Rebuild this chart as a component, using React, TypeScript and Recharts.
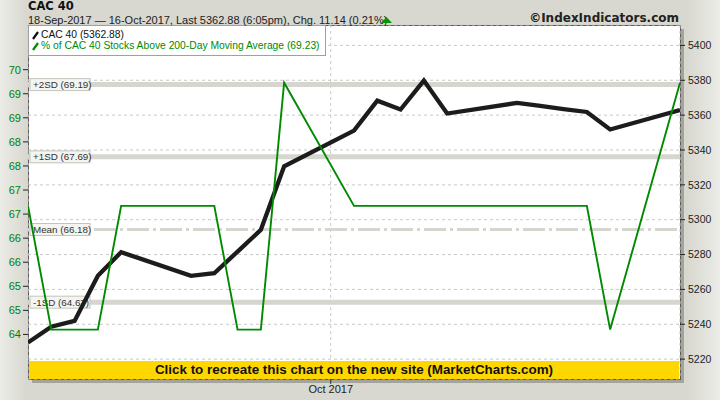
import { LineChart, Line, XAxis, YAxis, CartesianGrid, ReferenceLine } from 'recharts'

// trading days, 18-Sep-2017 .. 16-Oct-2017
const dates = [
  '2017-09-18', '2017-09-19', '2017-09-20', '2017-09-21', '2017-09-22',
  '2017-09-25', '2017-09-26', '2017-09-27', '2017-09-28', '2017-09-29',
  '2017-10-02', '2017-10-03', '2017-10-04', '2017-10-05', '2017-10-06',
  '2017-10-09', '2017-10-10', '2017-10-11', '2017-10-12', '2017-10-13',
  '2017-10-16',
]

const cacClose = [
  5229.5, 5238.6, 5241.9, 5267.8, 5281.4,
  5267.8, 5269.3, 5281.7, 5294.2, 5330.6,
  5351.1, 5368.3, 5363.2, 5379.8, 5360.9,
  5367.0, 5365.3, 5363.5, 5361.8, 5351.74,
  5362.88,
]

const pctAbove200 = [
  66.67, 64.10, 64.10, 64.10, 66.67,
  66.67, 66.67, 64.10, 64.10, 69.23,
  66.67, 66.67, 66.67, 66.67, 66.67,
  66.67, 66.67, 66.67, 66.67, 64.10,
  69.23,
]

const sdLevels = [69.19, 67.69, 66.18, 64.67]
const sdNames = ['+2SD', '+1SD', 'Mean', '-1SD']

const pctTicks = [64, 64.5, 65, 65.5, 66, 66.5, 67, 67.5, 68, 68.5, 69, 69.5]
const cacTicks = [5220, 5240, 5260, 5280, 5300, 5320, 5340, 5360, 5380, 5400]
const monthTicks = ['2017-10-01']
const monthLabels = ['Oct 2017']

const DAY = 86400000
const start = Date.parse(dates[0])
const toDay = (d: string) => Math.round((Date.parse(d) - start) / DAY)

const rows = dates.map((d, i) => ({
  day: toDay(d),
  cac: cacClose[i],
  pct: pctAbove200[i],
}))

const FONT = '"Liberation Sans", Arial, sans-serif'

const SdLabel = ({ viewBox, text }: any) => {
  if (!viewBox) return null
  const x = viewBox.x + 2
  const y = viewBox.y
  return (
    <g>
      <rect x={x} y={y - 6} width={60} height={12} fill="#f4f4f0" stroke="#c4c4bc" strokeWidth={1} />
      <text x={x + 3} y={y + 3.5} fontSize={9.8} fill="#333" fontFamily={FONT}>
        {text}
      </text>
    </g>
  )
}

const LegendMark = ({ color }: { color: string }) => (
  <svg width={7} height={10} style={{ position: 'absolute', left: 3, top: 1 }}>
    <line x1={1} y1={9} x2={6} y2={2} stroke={color} strokeWidth={2.2} />
  </svg>
)

export default function App() {
  return (
    <div
      style={{
        position: 'absolute',
        left: 0,
        top: 0,
        width: 720,
        height: 400,
        overflow: 'hidden',
        fontFamily: FONT,
        background: 'linear-gradient(to right, #ecece8 0px, #d8d8d0 26px, #d8d8d0 688px, #ecece8 720px)',
      }}
    >
      {/* plot shadow + white plot */}
      <div style={{ position: 'absolute', left: 32, top: 29, width: 652, height: 354, background: '#a4a49c' }} />
      <div
        style={{
          position: 'absolute',
          left: 28,
          top: 25,
          width: 653,
          height: 355,
          background: '#fff',
          border: '1px solid #5a5a5a',
          boxSizing: 'border-box',
        }}
      />

      <LineChart
        width={720}
        height={400}
        data={rows}
        margin={{ top: 25, right: 0, bottom: 0, left: 0 }}
        style={{ position: 'absolute', left: 0, top: 0 }}
      >
        <CartesianGrid yAxisId="cac" strokeDasharray="3 3" stroke="#c8c8c8" />
        <XAxis
          dataKey="day"
          type="number"
          domain={[0, 28]}
          ticks={monthTicks.map(toDay)}
          tickFormatter={(v) => monthLabels[monthTicks.map(toDay).indexOf(v)] ?? ''}
          height={21}
          tickSize={5}
          tickMargin={1}
          axisLine={false}
          tickLine={{ stroke: '#333' }}
          tick={{ fill: '#222', fontSize: 11, fontFamily: FONT }}
          allowDataOverflow
        />
        <YAxis
          yAxisId="pct"
          orientation="left"
          width={28}
          domain={[63.074, 70.428]}
          ticks={pctTicks}
          interval={0}
          tickFormatter={(v) => String(Math.round(v))}
          tickSize={5}
          tickMargin={2}
          axisLine={false}
          tickLine={{ stroke: '#222' }}
          tick={{ fill: '#008000', fontSize: 11, fontFamily: FONT }}
          allowDataOverflow
        />
        <YAxis
          yAxisId="cac"
          orientation="right"
          width={40}
          domain={[5208.6, 5411.7]}
          ticks={cacTicks}
          interval={0}
          tickSize={5}
          tickMargin={3}
          axisLine={false}
          tickLine={{ stroke: '#222' }}
          tick={{ fill: '#222', fontSize: 10.5, fontFamily: FONT }}
          allowDataOverflow
        />
        {sdLevels.map((v, i) => (
          <ReferenceLine
            key={sdNames[i]}
            yAxisId="pct"
            y={v}
            stroke="#d6d6ce"
            strokeWidth={sdNames[i] === 'Mean' ? 3 : 5}
            strokeDasharray={sdNames[i] === 'Mean' ? '22 4 3 4' : undefined}
            label={<SdLabel text={`${sdNames[i]} (${v.toFixed(2)})`} />}
          />
        ))}
        <Line
          yAxisId="cac"
          dataKey="cac"
          type="linear"
          stroke="#1c1c1c"
          strokeWidth={4.3}
          dot={false}
          isAnimationActive={false}
        />
        <Line
          yAxisId="pct"
          dataKey="pct"
          type="linear"
          stroke="#008a00"
          strokeWidth={1.9}
          dot={false}
          isAnimationActive={false}
        />
      </LineChart>

      {/* legend box */}
      <div
        style={{
          position: 'absolute',
          left: 28,
          top: 25,
          width: 298,
          height: 31,
          background: '#fff',
          border: '1px solid #a0a0a0',
          boxSizing: 'border-box',
          fontSize: 10.3,
        }}
      >
        <div style={{ position: 'absolute', left: 0, top: 3, height: 11, lineHeight: '11px', whiteSpace: 'nowrap' }}>
          <LegendMark color="#111" />
          <span style={{ position: 'absolute', left: 12, top: 0, color: '#111' }}>CAC 40 (5362.88)</span>
        </div>
        <div style={{ position: 'absolute', left: 0, top: 14, height: 11, lineHeight: '11px', whiteSpace: 'nowrap' }}>
          <LegendMark color="#008a00" />
          <span style={{ position: 'absolute', left: 12, top: 0, color: '#008a00' }}>
            % of CAC 40 Stocks Above 200-Day Moving Average (69.23)
          </span>
        </div>
      </div>

      {/* click bar */}
      <div
        style={{
          position: 'absolute',
          left: 29,
          top: 361,
          width: 650,
          height: 18,
          background: '#ffd700',
          textAlign: 'center',
          fontSize: 13.4,
          fontWeight: 'bold',
          lineHeight: '18px',
          color: '#111',
        }}
      >
        Click to recreate this chart on the new site (MarketCharts.com)
      </div>

      {/* header */}
      <div
        style={{
          position: 'absolute',
          left: 28,
          top: 0,
          fontFamily: '"DejaVu Sans", sans-serif',
          fontWeight: 'bold',
          fontSize: 11.5,
          lineHeight: '13.4px',
          color: '#111',
          whiteSpace: 'nowrap',
        }}
      >
        CAC 40
      </div>
      <div
        style={{
          position: 'absolute',
          left: 28,
          top: 13.5,
          fontSize: 11,
          lineHeight: '12.3px',
          color: '#222',
          whiteSpace: 'nowrap',
        }}
      >
        18-Sep-2017 — 16-Oct-2017, Last 5362.88 (6:05pm), Chg. 11.14 (0.21%)
      </div>
      <svg width={12} height={7} style={{ position: 'absolute', left: 381, top: 17 }}>
        <polygon points="0,6 5.5,0 11,6" fill="#009a00" />
      </svg>
      <div
        style={{
          position: 'absolute',
          right: 41,
          top: 11.5,
          fontFamily: '"DejaVu Sans", sans-serif',
          fontWeight: 'bold',
          fontSize: 12,
          lineHeight: '12px',
          color: '#222',
          whiteSpace: 'nowrap',
        }}
      >
        ©IndexIndicators.com
      </div>
    </div>
  )
}
